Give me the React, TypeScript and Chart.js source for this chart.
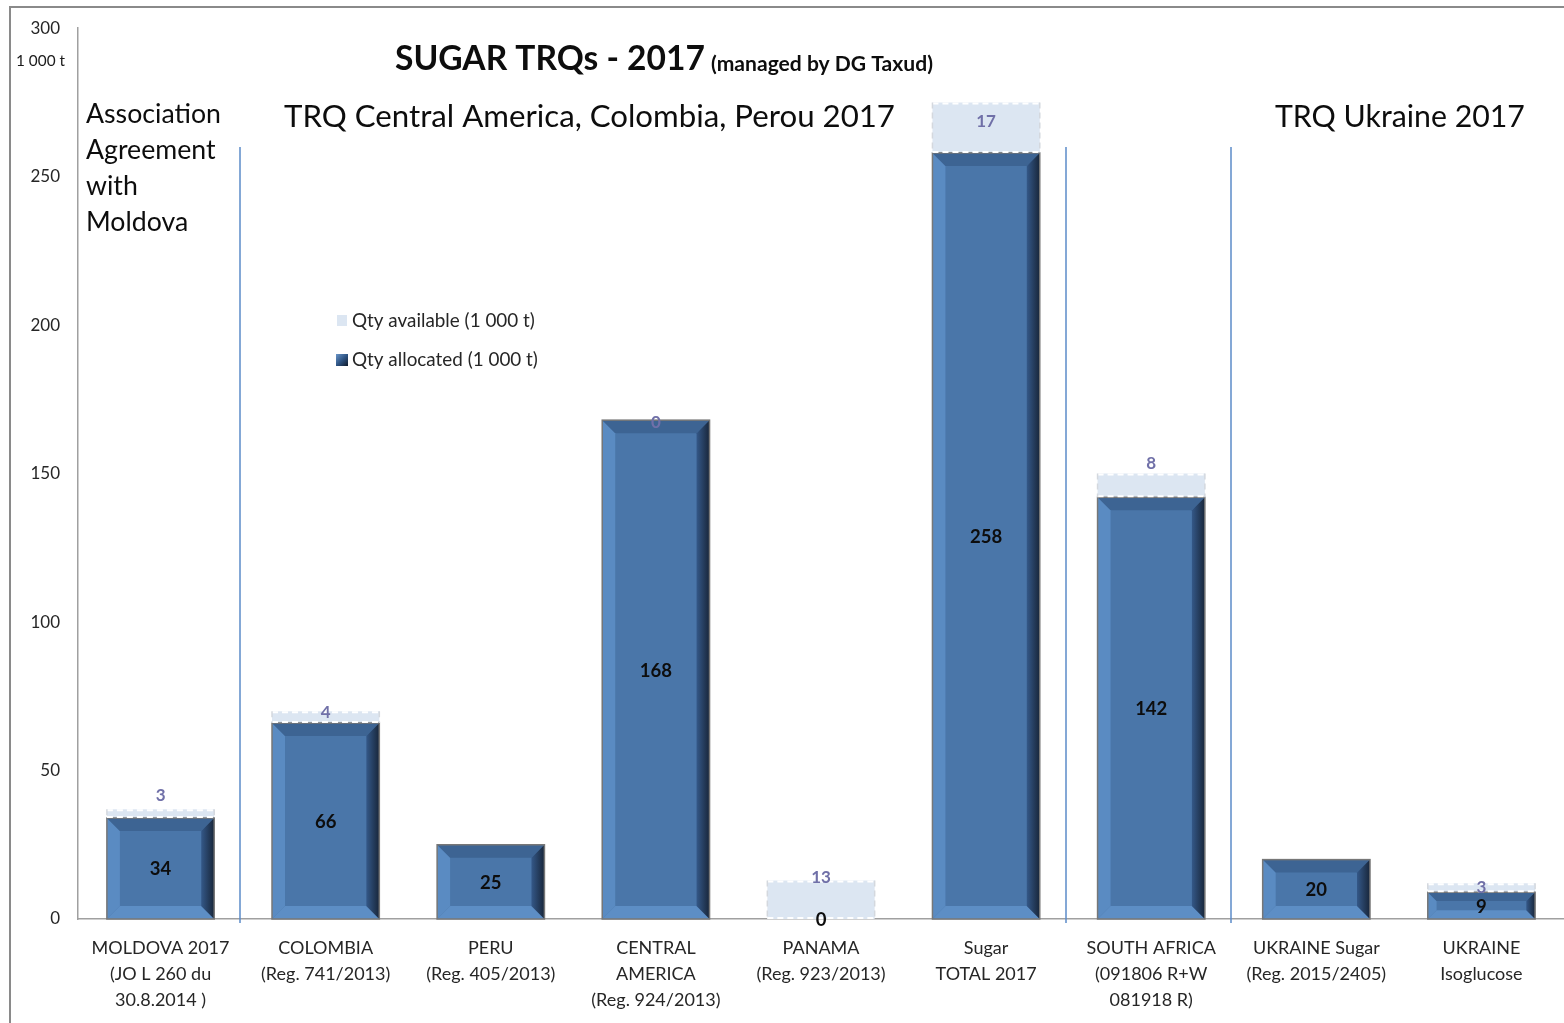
import React, { useEffect, useRef } from "react";
import { Chart, registerables } from "chart.js";
Chart.register(...registerables);

const categories: string[][] = [
  ["MOLDOVA 2017", "(JO L 260 du", "30.8.2014 )"],
  ["COLOMBIA", "(Reg. 741/2013)"],
  ["PERU", "(Reg. 405/2013)"],
  ["CENTRAL", "AMERICA", "(Reg. 924/2013)"],
  ["PANAMA", "(Reg. 923/2013)"],
  ["Sugar", "TOTAL 2017"],
  ["SOUTH AFRICA", "(091806 R+W", "081918 R)"],
  ["UKRAINE Sugar", "(Reg. 2015/2405)"],
  ["UKRAINE", "Isoglucose"],
];
const allocated: number[] = [34, 66, 25, 168, 0, 258, 142, 20, 9];
const available: (number | null)[] = [3, 4, null, 0, 13, 17, 8, null, 3];
const yMin = 0;
const yMax = 300;
const yStep = 50;
const separatorsBefore: number[] = [1, 6, 7];
const groupTitles: string[] = ["TRQ Central America, Colombia, Perou 2017", "TRQ Ukraine 2017"];
const moldovaTitle: string[] = ["Association", "Agreement", "with", "Moldova"];
const legendLabels: string[] = ["Qty available (1 000 t)", "Qty allocated (1 000 t)"];
// label placement style (pixels relative to segment top)
const availableLabelShift: number[] = [-14, 1, 0, 2, -3, 19, -10, 0, 4];

const FONT = "Lato, 'Open Sans', sans-serif";

function fitSize(ctx: CanvasRenderingContext2D, text: string, weight: string, width: number) {
  ctx.font = `${weight} 100px ${FONT}`;
  const w = ctx.measureText(text).width;
  return (100 * width) / w;
}

function drawText(ctx: CanvasRenderingContext2D, text: string, x: number, y: number, size: number, weight: string, color: string, align: CanvasTextAlign = "left") {
  ctx.font = `${weight} ${size}px ${FONT}`;
  ctx.fillStyle = color;
  ctx.textAlign = align;
  ctx.textBaseline = "middle";
  ctx.fillText(text, x, y);
}

function poly(ctx: CanvasRenderingContext2D, pts: number[][], fill: string | CanvasGradient) {
  ctx.beginPath();
  ctx.moveTo(pts[0][0], pts[0][1]);
  for (let i = 1; i < pts.length; i++) ctx.lineTo(pts[i][0], pts[i][1]);
  ctx.closePath();
  ctx.fillStyle = fill;
  ctx.fill();
}

const decorPlugin = {
  id: "decor",
  beforeDatasetsDraw(chart: any) {
    const ctx: CanvasRenderingContext2D = chart.ctx;
    const xs = chart.scales.x;
    const ys = chart.scales.y;
    ctx.save();
    ctx.strokeStyle = "#5b8bc9";
    ctx.lineWidth = 1.5;
    separatorsBefore.forEach((i) => {
      const x = Math.round((xs.getPixelForValue(i - 1) + xs.getPixelForValue(i)) / 2) - 3;
      ctx.beginPath();
      ctx.moveTo(x, ys.getPixelForValue(260));
      ctx.lineTo(x, ys.bottom + 4);
      ctx.stroke();
    });
    ctx.restore();
  },
  afterDatasetsDraw(chart: any) {
    const ctx: CanvasRenderingContext2D = chart.ctx;
    ctx.save();
    const m0 = chart.getDatasetMeta(0);
    m0.data.forEach((el: any) => {
      const p = el.getProps(["x", "y", "base", "width"], true);
      const l = p.x - p.width / 2, r = p.x + p.width / 2;
      const t = Math.min(p.y, p.base), b = Math.max(p.y, p.base);
      const h = b - t;
      if (h < 1) return;
      const bv = Math.min(13, h * 0.33);
      ctx.fillStyle = "#4a76a9";
      ctx.fillRect(l, t, r - l, h);
      poly(ctx, [[l, t], [l + bv, t + bv], [l + bv, b - bv], [l, b]], "#5a8bc2");
      poly(ctx, [[l, b], [l + bv, b - bv], [r - bv, b - bv], [r, b]], "#5d8ec5");
      poly(ctx, [[l, t], [r, t], [r - bv, t + bv], [l + bv, t + bv]], "#3d6493");
      const g = ctx.createLinearGradient(r - bv, 0, r, 0);
      g.addColorStop(0, "#345888");
      g.addColorStop(1, "#18263a");
      poly(ctx, [[r, t], [r, b], [r - bv, b - bv], [r - bv, t + bv]], g);
      ctx.strokeStyle = "#777777";
      ctx.lineWidth = 1.5;
      ctx.strokeRect(l, t, r - l, h);
    });
    const m1 = chart.getDatasetMeta(1);
    m1.data.forEach((el: any, i: number) => {
      if (available[i] == null) return;
      const p = el.getProps(["x", "y", "base", "width"], true);
      const l = p.x - p.width / 2, r = p.x + p.width / 2;
      const t = Math.min(p.y, p.base), b = Math.max(p.y, p.base);
      if (b - t < 1) return;
      ctx.setLineDash([6, 4]);
      ctx.lineWidth = 2;
      ctx.strokeStyle = "#ffffff";
      ctx.beginPath();
      ctx.moveTo(l, t + 1); ctx.lineTo(r, t + 1);
      ctx.moveTo(l, b - 1); ctx.lineTo(r, b - 1);
      ctx.stroke();
      ctx.strokeStyle = "#d4d8de";
      ctx.lineWidth = 1.5;
      ctx.beginPath();
      ctx.moveTo(l, t); ctx.lineTo(l, b);
      ctx.moveTo(r, t); ctx.lineTo(r, b);
      ctx.stroke();
      ctx.setLineDash([]);
    });
    m0.data.forEach((el: any, i: number) => {
      const p = el.getProps(["x", "y", "base"], true);
      drawText(ctx, String(allocated[i]), p.x, (p.y + p.base) / 2 + 1, 18.5, "bold", "#0d0d0d", "center");
    });
    m1.data.forEach((el: any, i: number) => {
      const v = available[i];
      if (v == null) return;
      const p = el.getProps(["x", "y", "base"], true);
      const t = Math.min(p.y, p.base);
      drawText(ctx, String(v), p.x, t + availableLabelShift[i], 17, "bold", "#7070a8", "center");
    });
    ctx.restore();
  },
  afterDraw(chart: any) {
    const ctx: CanvasRenderingContext2D = chart.ctx;
    ctx.save();
    ctx.strokeStyle = "#8a8a8a";
    ctx.lineWidth = 2;
    ctx.beginPath();
    ctx.moveTo(10, 1023);
    ctx.lineTo(10, 7);
    ctx.lineTo(1564, 7);
    ctx.stroke();
    drawText(ctx, "1 000 t", 16, 61, fitSize(ctx, "1 000 t", "normal", 49), "normal", "#1a1a1a");
    const tSize = fitSize(ctx, "SUGAR TRQs - 2017", "bold", 310);
    drawText(ctx, "SUGAR TRQs - 2017", 395, 59, tSize, "bold", "#0d0d0d");
    const sSize = fitSize(ctx, "(managed by DG Taxud)", "bold", 222);
    drawText(ctx, "(managed by DG Taxud)", 711, 64, sSize, "bold", "#0d0d0d");
    const gSize = fitSize(ctx, groupTitles[0], "normal", 611);
    drawText(ctx, groupTitles[0], 284, 117, gSize, "normal", "#0d0d0d");
    const uSize = fitSize(ctx, groupTitles[1], "normal", 250);
    drawText(ctx, groupTitles[1], 1275, 117, uSize, "normal", "#0d0d0d");
    const aSize = fitSize(ctx, moldovaTitle[0], "normal", 135);
    moldovaTitle.forEach((s, i) => drawText(ctx, s, 86, 114 + i * 36.3, aSize, "normal", "#0d0d0d"));
    ctx.fillStyle = "#dce6f2";
    ctx.fillRect(337, 315, 10, 11);
    const lg = ctx.createLinearGradient(336, 354, 348, 366);
    lg.addColorStop(0, "#6a95c8");
    lg.addColorStop(0.5, "#2f5585");
    lg.addColorStop(1, "#101a2a");
    ctx.fillStyle = lg;
    ctx.fillRect(336, 354, 12, 12);
    const lSize = fitSize(ctx, legendLabels[0], "normal", 183);
    drawText(ctx, legendLabels[0], 352, 321, lSize, "normal", "#262626");
    drawText(ctx, legendLabels[1], 352, 360, lSize, "normal", "#262626");
    ctx.restore();
  },
};

export default function App() {
  const ref = useRef<HTMLCanvasElement | null>(null);
  useEffect(() => {
    if (!ref.current) return;
    const chart = new Chart(ref.current, {
      type: "bar",
      data: {
        labels: categories,
        datasets: [
          { label: legendLabels[1], data: allocated, backgroundColor: "rgba(0,0,0,0)", borderWidth: 0, categoryPercentage: 0.65, barPercentage: 1 },
          { label: legendLabels[0], data: available as any, backgroundColor: "#dce6f2", borderWidth: 0, categoryPercentage: 0.65, barPercentage: 1 },
        ],
      },
      options: {
        responsive: false,
        animation: false,
        devicePixelRatio: 1,
        layout: { padding: { left: 0, right: 0, top: 21, bottom: 0 } },
        plugins: { legend: { display: false }, tooltip: { enabled: false }, title: { display: false } },
        scales: {
          x: {
            stacked: true,
            grid: { display: false, drawTicks: false },
            border: { display: true, color: "#a0a0a0", width: 1.5 },
            ticks: { color: "#262626", font: { family: FONT, size: 18, lineHeight: 1.45 }, padding: 16, maxRotation: 0, autoSkip: false },
            afterFit: (s: any) => { s.height = 104; },
          },
          y: {
            stacked: true,
            min: yMin,
            max: yMax,
            grid: { display: false, drawTicks: false },
            border: { display: true, color: "#a0a0a0", width: 1.5 },
            ticks: { stepSize: yStep, color: "#262626", font: { family: FONT, size: 17 }, padding: 18 },
            afterFit: (s: any) => { s.width = 78; },
          },
        },
      },
      plugins: [decorPlugin],
    });
    return () => chart.destroy();
  }, []);
  return (
    <div style={{ position: "fixed", left: 0, top: 0, width: 1564, height: 1023, background: "#fff" }}>
      <canvas ref={ref} width={1564} height={1023} style={{ display: "block", width: 1564, height: 1023 }} />
    </div>
  );
}
